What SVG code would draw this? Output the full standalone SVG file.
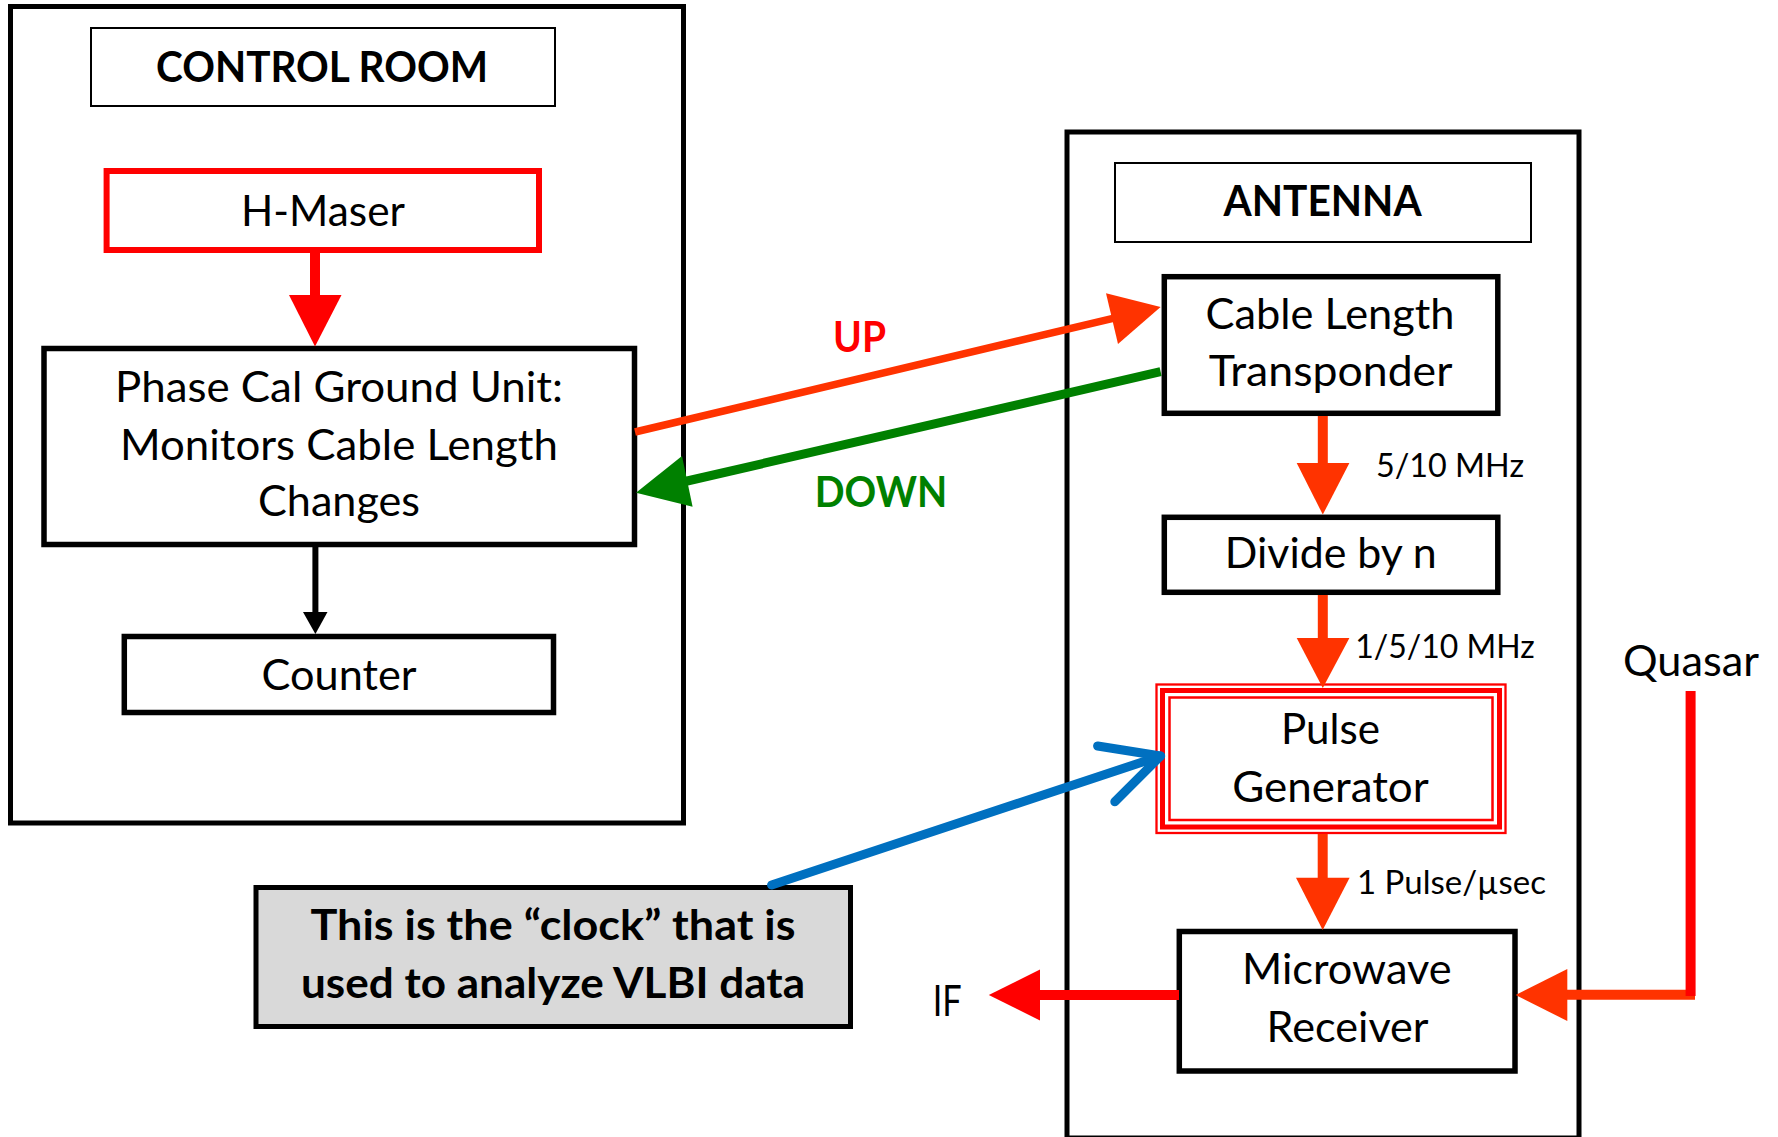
<svg xmlns="http://www.w3.org/2000/svg" width="1778" height="1137" viewBox="0 0 1778 1137">
<style>
  .frame{fill:none;stroke:#000;stroke-width:5}
  .label{fill:#fff;stroke:#000;stroke-width:2}
  .box{fill:#fff;stroke:#000;stroke-width:5.5}
  text{font-family:Lato,"Open Sans","Liberation Sans",sans-serif;fill:#000}
  .t{font-size:42px;text-anchor:middle}
  .b{font-weight:bold}
  .s{font-size:32px}
  .or{stroke:#FF3300;fill:none}
  .orf{fill:#FF3300}
  .rd{stroke:#FF0000;fill:none}
  .rdf{fill:#FF0000}
</style>
<rect width="1778" height="1137" fill="#fff"/>

<g id="control-room">
  <rect class="frame" x="10.5" y="6.5" width="673" height="816.5"/>
  <rect class="label" x="91" y="28" width="464" height="78"/>
  <text class="t b" x="322" y="82" font-size="43" textLength="332" lengthAdjust="spacingAndGlyphs">CONTROL ROOM</text>
</g>

<g id="antenna">
  <rect class="frame" x="1067" y="132" width="512" height="1006"/>
  <rect class="label" x="1115" y="163" width="416" height="79"/>
  <text class="t b" x="1322.6" y="216.4" font-size="43" textLength="198" lengthAdjust="spacingAndGlyphs">ANTENNA</text>
</g>

<g id="h-maser">
  <rect x="106.6" y="171" width="432.4" height="79" fill="#fff" stroke="#FF0000" stroke-width="6"/>
  <text class="t" x="323" y="226" textLength="164" lengthAdjust="spacingAndGlyphs">H-Maser</text>
</g>

<g id="phase-cal">
  <rect class="box" x="44" y="348.5" width="590.5" height="196"/>
  <text class="t" x="339" y="402" textLength="448" lengthAdjust="spacingAndGlyphs">Phase Cal Ground Unit:</text>
  <text class="t" x="339" y="460" textLength="438" lengthAdjust="spacingAndGlyphs">Monitors Cable Length</text>
  <text class="t" x="339" y="516" textLength="162" lengthAdjust="spacingAndGlyphs">Changes</text>
</g>

<g id="counter">
  <rect class="box" x="124.3" y="636.5" width="429.2" height="76"/>
  <text class="t" x="339" y="690" textLength="155" lengthAdjust="spacingAndGlyphs">Counter</text>
</g>

<g id="callout">
  <rect x="256" y="887.5" width="594.5" height="139" fill="#D9D9D9" stroke="#000" stroke-width="5"/>
  <text class="t b" x="553" y="940" font-size="41" textLength="485" lengthAdjust="spacingAndGlyphs">This is the “clock” that is</text>
  <text class="t b" x="553" y="998" font-size="41" textLength="504" lengthAdjust="spacingAndGlyphs">used to analyze VLBI data</text>
</g>

<g id="cable-length-transponder">
  <rect class="box" x="1164.3" y="276.7" width="333.5" height="136.6"/>
  <text class="t" x="1330" y="329" textLength="249" lengthAdjust="spacingAndGlyphs">Cable Length</text>
  <text class="t" x="1330.6" y="386" textLength="243.6" lengthAdjust="spacingAndGlyphs">Transponder</text>
</g>

<g id="divide-by-n">
  <rect class="box" x="1164.3" y="517.3" width="333.5" height="75"/>
  <text class="t" x="1330.8" y="567.5" textLength="212" lengthAdjust="spacingAndGlyphs">Divide by n</text>
</g>

<g id="pulse-generator">
  <rect x="1156.5" y="684.5" width="349" height="148.5" fill="#fff" stroke="#FF0000" stroke-width="2.3"/>
  <rect x="1162.5" y="690.5" width="337" height="136.5" fill="none" stroke="#FF0000" stroke-width="5"/>
  <rect x="1169.5" y="697.5" width="323" height="122.5" fill="none" stroke="#FF0000" stroke-width="2.5"/>
  <text class="t" x="1330.5" y="744" textLength="99" lengthAdjust="spacingAndGlyphs">Pulse</text>
  <text class="t" x="1330.5" y="802" textLength="196.5" lengthAdjust="spacingAndGlyphs">Generator</text>
</g>

<g id="microwave-receiver">
  <rect class="box" x="1179.3" y="931.5" width="335.7" height="139.5"/>
  <text class="t" x="1346.8" y="984" textLength="209.6" lengthAdjust="spacingAndGlyphs">Microwave</text>
  <text class="t" x="1347.6" y="1041.7" textLength="162" lengthAdjust="spacingAndGlyphs">Receiver</text>
</g>

<g id="connectors">
  <!-- H-Maser to Phase Cal -->
  <line class="rd" x1="315" y1="253" x2="315" y2="296" stroke-width="10"/>
  <polygon class="rdf" points="289,295 341.5,295 315,346.5"/>
  <!-- Phase Cal to Counter -->
  <line x1="315.4" y1="547" x2="315.4" y2="614" stroke="#000" stroke-width="6"/>
  <polygon fill="#000" points="303,612 327.5,612 315.4,634"/>
  <!-- UP -->
  <line class="or" x1="635" y1="432" x2="1113" y2="318.3" stroke-width="7.5"/>
  <polygon class="orf" points="1160.6,307 1118,343.9 1106,293.3"/>
  <!-- DOWN -->
  <line x1="1160.6" y1="371.7" x2="685" y2="481.5" stroke="#008000" stroke-width="9"/>
  <polygon fill="#008000" points="636,492.7 682,456 692.6,506.7"/>
  <!-- antenna chain -->
  <line class="or" x1="1322.8" y1="416" x2="1322.8" y2="464" stroke-width="10"/>
  <polygon class="orf" points="1296.7,463 1349.4,463 1322.8,514.6"/>
  <line class="or" x1="1322.8" y1="595" x2="1322.8" y2="639" stroke-width="10"/>
  <polygon class="orf" points="1296.7,638 1349.4,638 1322.8,688"/>
  <line class="or" x1="1322.7" y1="834" x2="1322.7" y2="879" stroke-width="10"/>
  <polygon class="orf" points="1296,877.7 1349.6,877.7 1322.7,930"/>
  <!-- IF -->
  <line class="rd" x1="1179" y1="995" x2="1039" y2="995" stroke-width="10"/>
  <polygon class="rdf" points="1040,969.5 1040,1020.5 988.8,995"/>
  <!-- Quasar -->
  <line class="or" x1="1695" y1="994.7" x2="1566" y2="994.7" stroke-width="10"/>
  <polygon class="orf" points="1567.3,969 1567.3,1021 1515.7,995"/>
  <line class="rd" x1="1690.6" y1="691" x2="1690.6" y2="996" stroke-width="10"/>
  <!-- clock callout pointer -->
  <g fill="none" stroke="#0070C0" stroke-width="9" stroke-linecap="round" stroke-linejoin="round">
    <line x1="771.6" y1="885" x2="1160.6" y2="756"/>
    <polyline points="1097.6,746 1160.6,756 1114.8,801.7"/>
  </g>
</g>

<g id="connector-labels">
  <text class="b" x="859.5" y="351.7" font-size="42" text-anchor="middle" fill="#FF0000" style="fill:#FF0000" textLength="53" lengthAdjust="spacingAndGlyphs">UP</text>
  <text class="b" x="881" y="506.7" font-size="42" text-anchor="middle" style="fill:#008000" textLength="132.5" lengthAdjust="spacingAndGlyphs">DOWN</text>
  <text class="s" x="1376" y="477" textLength="148" lengthAdjust="spacingAndGlyphs">5/10 MHz</text>
  <text class="s" x="1355.3" y="657.5" textLength="179.5" lengthAdjust="spacingAndGlyphs">1/5/10 MHz</text>
  <text class="s" x="1357" y="894" textLength="189" lengthAdjust="spacingAndGlyphs">1 Pulse/µsec</text>
  <text x="1623" y="676" font-size="42" textLength="136" lengthAdjust="spacingAndGlyphs">Quasar</text>
  <text x="932.7" y="1015.7" font-size="42" textLength="29" lengthAdjust="spacingAndGlyphs">IF</text>
</g>
</svg>
